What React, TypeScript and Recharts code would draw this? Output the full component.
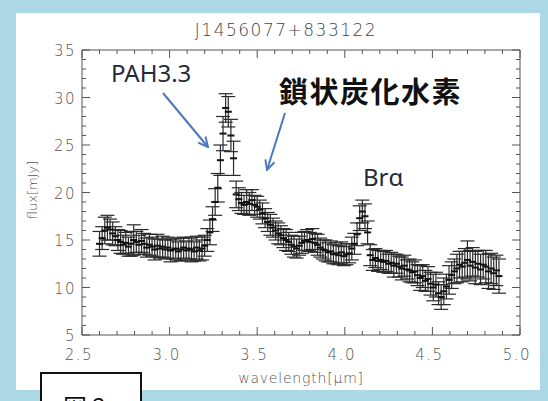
import { ScatterChart, Scatter, XAxis, YAxis, ErrorBar, ReferenceLine } from "recharts";

// spectrum J1456077+833122
const wavelength = [
  2.6, 2.615, 2.63, 2.645, 2.66, 2.675, 2.69, 2.705, 2.72, 2.735,
  2.75, 2.765, 2.78, 2.795, 2.81, 2.825, 2.84, 2.855, 2.87, 2.885,
  2.9, 2.915, 2.93, 2.945, 2.96, 2.975, 2.99, 3.005, 3.02, 3.035,
  3.05, 3.065, 3.08, 3.095, 3.11, 3.125, 3.14, 3.155, 3.17, 3.185,
  3.2, 3.215, 3.23, 3.245, 3.26, 3.275, 3.29, 3.305, 3.32, 3.335,
  3.35, 3.365, 3.38, 3.395, 3.41, 3.425, 3.44, 3.455, 3.47, 3.485,
  3.5, 3.515, 3.53, 3.545, 3.56, 3.575, 3.59, 3.605, 3.62, 3.635,
  3.65, 3.665, 3.68, 3.695, 3.71, 3.725, 3.74, 3.755, 3.77, 3.785,
  3.8, 3.815, 3.83, 3.845, 3.86, 3.875, 3.89, 3.905, 3.92, 3.935,
  3.95, 3.965, 3.98, 3.995, 4.01, 4.025, 4.04, 4.055, 4.07, 4.085,
  4.1, 4.115, 4.13, 4.145, 4.16, 4.175, 4.19, 4.205, 4.22, 4.235,
  4.25, 4.265, 4.28, 4.295, 4.31, 4.325, 4.34, 4.355, 4.37, 4.385,
  4.4, 4.415, 4.43, 4.445, 4.46, 4.475, 4.49, 4.505, 4.52, 4.535,
  4.55, 4.565, 4.58, 4.595, 4.61, 4.625, 4.64, 4.655, 4.67, 4.685,
  4.7, 4.715, 4.73, 4.745, 4.76, 4.775, 4.79, 4.805, 4.82, 4.835,
  4.85, 4.865, 4.88,
];

const flux = [
  14.6, 15.2, 16.0, 16.3, 16.1, 15.7, 15.4, 15.0, 14.8, 14.5,
  14.7, 14.3, 14.6, 15.0, 14.8, 14.5, 14.9, 14.6, 14.2, 14.5,
  14.3, 14.0, 14.4, 14.1, 14.3, 14.0, 14.2, 13.9, 14.0, 14.1,
  13.8, 14.0, 14.2, 13.9, 14.1, 14.0, 13.8, 14.2, 13.9, 14.1,
  14.4, 15.0, 15.8, 17.2, 19.0, 20.5, 23.4, 26.2, 28.9, 28.5,
  26.0, 23.6, 19.8, 19.3, 18.9, 18.7, 19.0, 18.8, 19.2, 18.7,
  18.5, 18.2, 17.8, 17.3, 16.9, 16.6, 16.3, 16.0, 15.7, 15.5,
  15.2, 15.0, 14.8, 14.5, 14.3, 14.1, 14.4, 14.7, 14.9, 15.0,
  14.8, 15.1, 14.7, 14.5, 14.2, 14.0, 13.9, 13.7, 13.8, 13.5,
  13.6, 13.4, 13.7, 13.3, 13.5, 13.6, 14.1, 14.6, 15.6, 17.3,
  18.0, 17.5, 15.8, 13.4, 12.9, 13.1, 12.8, 12.9, 12.7, 12.8,
  12.5, 12.6, 12.3, 12.5, 12.2, 12.0, 12.3, 11.9, 11.8, 11.6,
  11.7, 11.3, 11.0, 11.2, 10.7, 10.9, 10.4, 10.0, 10.3, 9.4,
  9.0, 9.6, 10.1, 10.8, 11.3, 11.7, 12.0, 12.4, 12.2, 12.6,
  12.9, 12.3, 12.7, 12.1, 12.5, 11.9, 12.4, 12.2, 11.7, 12.0,
  11.5, 11.8, 11.2,
];

const fluxErr = [
  1.3, 1.2, 1.4, 1.3, 1.1, 1.2, 1.0, 1.1, 1.2, 1.0,
  1.1, 1.0, 1.3, 1.6, 1.1, 1.0, 1.2, 1.1, 1.0, 1.1,
  1.0, 1.1, 1.2, 1.0, 1.1, 1.0, 1.1, 1.2, 1.0, 1.1,
  1.0, 1.2, 1.1, 1.0, 1.1, 1.3, 1.0, 1.2, 1.1, 1.2,
  1.1, 1.2, 1.3, 1.3, 1.4, 1.5, 1.6, 1.8, 1.5, 1.6,
  1.7, 1.8, 1.4, 1.2, 1.1, 1.0, 1.3, 1.2, 1.1, 1.0,
  1.1, 1.0, 1.1, 1.0, 1.0, 1.1, 1.0, 1.0, 1.1, 1.0,
  1.0, 1.1, 1.0, 1.0, 1.1, 1.0, 1.0, 1.1, 1.0, 1.1,
  1.0, 1.1, 1.0, 1.1, 1.0, 1.0, 1.1, 1.0, 1.1, 1.0,
  1.1, 1.0, 1.1, 1.0, 1.1, 1.0, 1.2, 1.1, 1.2, 1.3,
  1.2, 1.3, 1.2, 1.1, 1.1, 1.0, 1.1, 1.0, 1.1, 1.1,
  1.0, 1.1, 1.2, 1.0, 1.1, 1.2, 1.1, 1.0, 1.2, 1.1,
  1.2, 1.1, 1.3, 1.2, 1.1, 1.3, 1.2, 1.4, 1.3, 1.2,
  1.3, 1.4, 1.3, 1.5, 1.4, 1.3, 1.5, 1.4, 1.6, 1.5,
  2.0, 1.6, 1.5, 1.7, 1.4, 1.6, 1.5, 1.7, 1.8, 1.6,
  1.7, 1.6, 1.8,
];

const xTicks = [
  2.5, 2.6, 2.7, 2.8, 2.9, 3.0, 3.1, 3.2, 3.3, 3.4, 3.5, 3.6, 3.7,
  3.8, 3.9, 4.0, 4.1, 4.2, 4.3, 4.4, 4.5, 4.6, 4.7, 4.8, 4.9, 5.0,
];
const xLabels = ["2.5", "3.0", "3.5", "4.0", "4.5", "5.0"];
const yTicks = [
  5, 6, 7, 8, 9, 10, 11, 12, 13, 14, 15, 16, 17, 18, 19, 20,
  21, 22, 23, 24, 25, 26, 27, 28, 29, 30, 31, 32, 33, 34, 35,
];
const yLabels = ["5", "10", "15", "20", "25", "30", "35"];

const data = wavelength.map((w, i) => ({ wl: w, flux: flux[i], err: fluxErr[i] }));

const PLOT_LEFT = 82;
const PLOT_RIGHT = 520;
const PLOT_TOP = 50;
const PLOT_BOTTOM = 335;
const AXIS = "#555";
const TICK_FONT = "'DejaVu Sans', sans-serif";
const ARROW = "#4a78b8";

function XTick({ x, payload }: any) {
  const label = payload.value.toFixed(1);
  const major = xLabels.includes(label);
  const len = major ? 8 : 4;
  return (
    <g>
      <line x1={x} x2={x} y1={PLOT_BOTTOM} y2={PLOT_BOTTOM - len} stroke={AXIS} />
      <line x1={x} x2={x} y1={PLOT_TOP} y2={PLOT_TOP + len} stroke={AXIS} />
      {major && (
        <text x={x - 3} y={PLOT_BOTTOM + 25} textAnchor="middle" fontSize={15} fontFamily={TICK_FONT}
          fontWeight={200} letterSpacing={1.5} fill="#555">{label}</text>
      )}
    </g>
  );
}

function YTick({ y, payload }: any) {
  const label = String(payload.value);
  const major = yLabels.includes(label);
  const len = major ? 8 : 4;
  return (
    <g>
      <line x1={PLOT_LEFT} x2={PLOT_LEFT + len} y1={y} y2={y} stroke={AXIS} />
      <line x1={PLOT_RIGHT} x2={PLOT_RIGHT - len} y1={y} y2={y} stroke={AXIS} />
      {major && (
        <text x={PLOT_LEFT - 6} y={y + 6} textAnchor="end" fontSize={15} fontFamily={TICK_FONT}
          fontWeight={200} letterSpacing={1.5} fill="#555">{label}</text>
      )}
    </g>
  );
}

function Dash({ cx, cy }: any) {
  return <line x1={cx - 3.5} x2={cx + 3.5} y1={cy} y2={cy} stroke="#111" strokeWidth={2} />;
}

export default function App() {
  return (
    <div style={{ position: "absolute", left: 0, top: 0, width: 548, height: 401, background: "#acd7e5", overflow: "hidden" }}>
      <div style={{ position: "absolute", left: 16, top: 13, width: 524, height: 377, background: "#fff" }} />
      <div style={{ position: "absolute", left: 0, top: 0 }}>
        <ScatterChart width={548} height={401}
          margin={{ top: PLOT_TOP, right: 548 - PLOT_RIGHT, bottom: 401 - PLOT_BOTTOM - 40, left: PLOT_LEFT - 40 }}>
          <XAxis type="number" dataKey="wl" domain={[2.5, 5.0]} ticks={xTicks} interval={0}
            height={40} tickSize={0} tickMargin={0} tick={<XTick />} stroke={AXIS} />
          <YAxis type="number" dataKey="flux" domain={[5, 35]} ticks={yTicks} interval={0}
            width={40} tickSize={0} tickMargin={0} tick={<YTick />} stroke={AXIS} />
          <ReferenceLine y={35} stroke={AXIS} />
          <ReferenceLine x={5.0} stroke={AXIS} />
          <Scatter data={data} dataKey="flux" shape={<Dash />} isAnimationActive={false}>
            <ErrorBar dataKey="err" direction="y" width={7} stroke="#2a2a2a" strokeWidth={1.2} />
          </Scatter>
        </ScatterChart>
      </div>
      <svg width={548} height={401} style={{ position: "absolute", left: 0, top: 0, pointerEvents: "none" }}>
        <defs>
          <marker id="head" viewBox="0 0 10 10" refX="9" refY="5" markerWidth="6" markerHeight="6" orient="auto">
            <path d="M1,1 L9,5 L1,9" fill="none" stroke={ARROW} strokeWidth={1.6} />
          </marker>
        </defs>
        <text x={286} y={36} textAnchor="middle" fontSize={17} fontFamily={TICK_FONT} fontWeight={200}
          letterSpacing={1.5} fill="#444">J1456077+833122</text>
        <text x={0} y={0} transform="translate(37,190) rotate(-90)" textAnchor="middle" fontSize={13}
          fontFamily={TICK_FONT} fontWeight={200} fill="#555">flux[mJy]</text>
        <text x={301} y={383} textAnchor="middle" fontSize={14} fontFamily={TICK_FONT} fontWeight={200}
          letterSpacing={0.8} fill="#555">wavelength[μm]</text>
        <text x={111} y={82} fontSize={24} fontFamily="'Noto Sans', sans-serif" fill="#222b3a">PAH3.3</text>
        <text x={279} y={103} fontSize={29} fontWeight={700} letterSpacing={1.5}
          fontFamily="'Noto Sans CJK JP', sans-serif" fill="#111">鎖状炭化水素</text>
        <text x={363} y={186} fontSize={24} fontFamily="'Noto Sans', sans-serif" fill="#222b3a">Brα</text>
        <line x1={163} y1={93} x2={208} y2={147} stroke={ARROW} strokeWidth={2} markerEnd="url(#head)" />
        <line x1={285} y1={113} x2={267} y2={170} stroke={ARROW} strokeWidth={2} markerEnd="url(#head)" />
      </svg>
      <div style={{ position: "absolute", left: 40, top: 372, width: 98, height: 40, border: "2px solid #111",
        background: "#fff", overflow: "hidden" }}>
        <div style={{ position: "absolute", left: 21, top: 18, fontSize: 24, lineHeight: "28px",
          fontFamily: "'Noto Sans CJK JP', serif", color: "#111", whiteSpace: "nowrap" }}>図 2</div>
      </div>
    </div>
  );
}
